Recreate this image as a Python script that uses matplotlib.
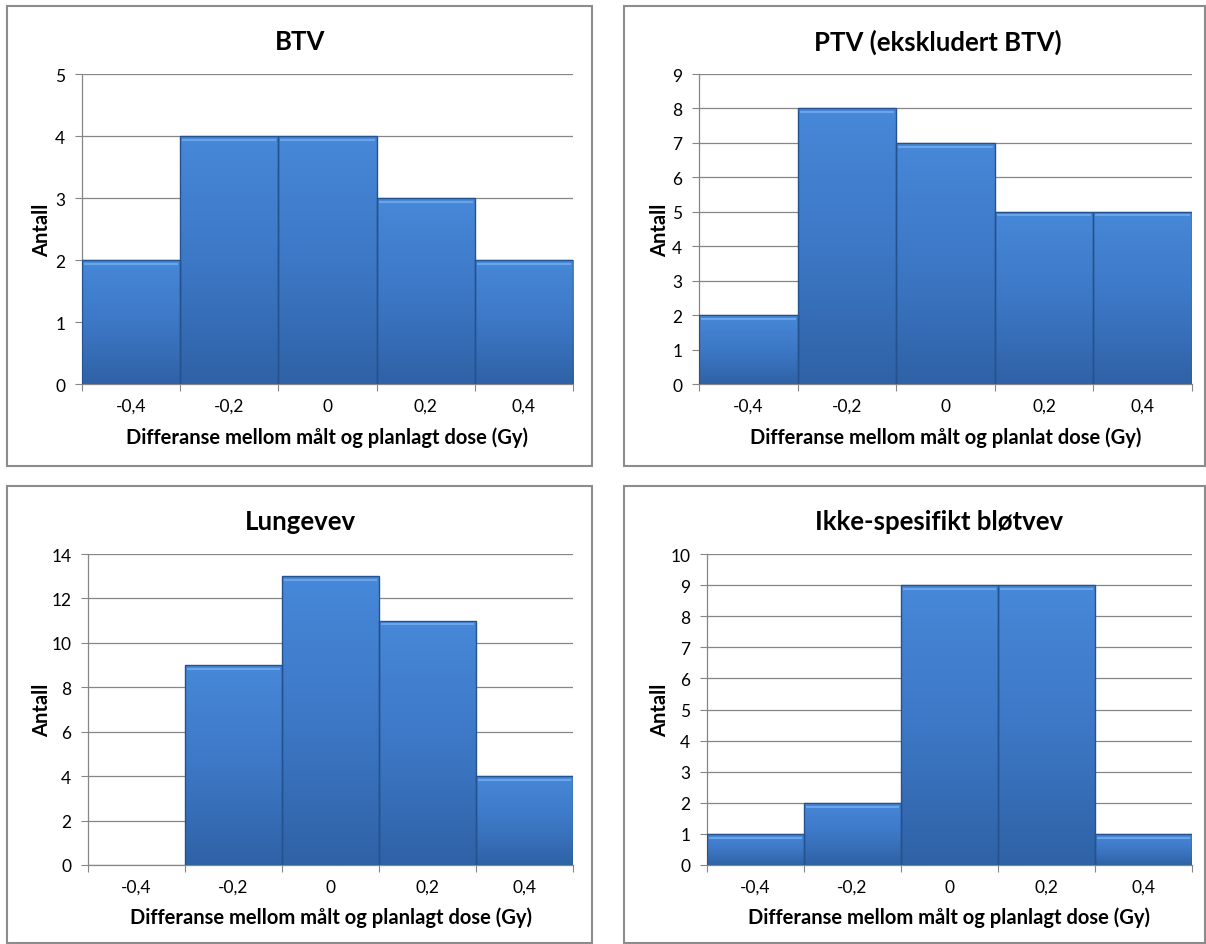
import numpy as np
import matplotlib
matplotlib.use('Agg')
import matplotlib.pyplot as plt
from matplotlib.colors import LinearSegmentedColormap
from matplotlib.patches import Rectangle

plt.rcParams['font.family'] = ['Lato', 'DejaVu Sans']

# data
bin_centers = [-0.4, -0.2, 0.0, 0.2, 0.4]
tick_labels = ['-0,4', '-0,2', '0', '0,2', '0,4']
btv = [2, 4, 4, 3, 2]
ptv = [2, 8, 7, 5, 5]
lunge = [0, 9, 13, 11, 4]
blot = [1, 2, 9, 9, 1]

titles = ['BTV', 'PTV (ekskludert BTV)', 'Lungevev', 'Ikke-spesifikt bløtvev']
xlabels = ['Differanse mellom målt og planlagt dose (Gy)',
           'Differanse mellom målt og planlat dose (Gy)',
           'Differanse mellom målt og planlagt dose (Gy)',
           'Differanse mellom målt og planlagt dose (Gy)']
series = [btv, ptv, lunge, blot]
ymaxes = [5, 9, 14, 10]
ysteps = [1, 1, 2, 1]

W, H = 1206, 945
fig = plt.figure(figsize=(W / 100, H / 100), dpi=100)

# panel boxes (pixels: x0, y0, x1, y1)
panels = [(7, 7, 592, 467), (624, 7, 1205, 467), (7, 487, 592, 944), (624, 487, 1205, 944)]
# axes areas in pixels (left, top, right, bottom)
axes_px = [(82, 75, 573, 385), (699, 75, 1192, 385), (88, 555, 573, 866), (707, 555, 1192, 866)]
# title / label anchor positions in pixels
title_pos = [(300, 42), (938, 42), (300, 522), (939, 522)]
ylabel_x = [42, 660, 42, 660]
xlabel_y = [438, 438, 918, 918]

cmap = LinearSegmentedColormap.from_list('bar', ['#2f62a6', '#3d78c6', '#4788d8'])
grad = np.linspace(0, 1, 256).reshape(-1, 1)

for i in range(4):
    px0, py0, px1, py1 = panels[i]
    fig.patches.append(Rectangle((px0 / W, 1 - py1 / H), (px1 - px0) / W, (py1 - py0) / H,
                                 transform=fig.transFigure, fill=False,
                                 edgecolor='#8c8c8c', linewidth=1.5, zorder=0))
    l, t, r, b = axes_px[i]
    ax = fig.add_axes([l / W, 1 - b / H, (r - l) / W, (b - t) / H])
    vals = series[i]
    bars = ax.bar(bin_centers, vals, width=0.2, color='none',
                  edgecolor=['#24528f' if v > 0 else 'none' for v in vals],
                  linewidth=1.0, zorder=3)
    for bar, v in zip(bars, vals):
        if v <= 0:
            continue
        x0 = bar.get_x()
        x1 = x0 + bar.get_width()
        im = ax.imshow(grad, extent=[x0, x1, 0, v], origin='lower', aspect='auto',
                       cmap=cmap, zorder=2)
        im.set_clip_path(bar)
        # light bevel on top edge
        ax.plot([x0 + 0.004, x1 - 0.004], [v - 0.012 * ymaxes[i]] * 2, color='#6aa5ea',
                linewidth=1.5, zorder=4, solid_capstyle='butt')

    ax.set_xlim(-0.5, 0.5)
    ax.set_ylim(0, ymaxes[i])
    ax.set_yticks(np.arange(0, ymaxes[i] + 1, ysteps[i]))
    ax.yaxis.grid(True, color='#868686', linewidth=0.9)
    ax.set_axisbelow(True)
    ax.set_xticks([-0.5, -0.3, -0.1, 0.1, 0.3, 0.5])
    ax.set_xticklabels([])
    ax.set_xticks(bin_centers, minor=True)
    ax.set_xticklabels(tick_labels, minor=True)
    ax.tick_params(axis='x', which='minor', length=0, labelsize=12.5, pad=10)
    ax.tick_params(axis='x', which='major', length=5, color='#868686')
    ax.tick_params(axis='y', length=5, color='#868686', labelsize=12.5, pad=7)
    for s in ['top', 'right']:
        ax.spines[s].set_visible(False)
    for s in ['left', 'bottom']:
        ax.spines[s].set_color('#868686')
        ax.spines[s].set_linewidth(0.9)

    fig.text(ylabel_x[i] / W, 1 - (t + b) / 2 / H, 'Antall', rotation=90,
             ha='center', va='center', fontsize=14.5, fontweight='bold')
    fig.text((l + r) / 2 / W, 1 - xlabel_y[i] / H, xlabels[i],
             ha='center', va='center', fontsize=14.5, fontweight='bold')
    fig.text(title_pos[i][0] / W, 1 - title_pos[i][1] / H, titles[i],
             ha='center', va='center', fontsize=18.5, fontweight='bold')

fig.savefig('out.png', dpi=100, facecolor='white')
